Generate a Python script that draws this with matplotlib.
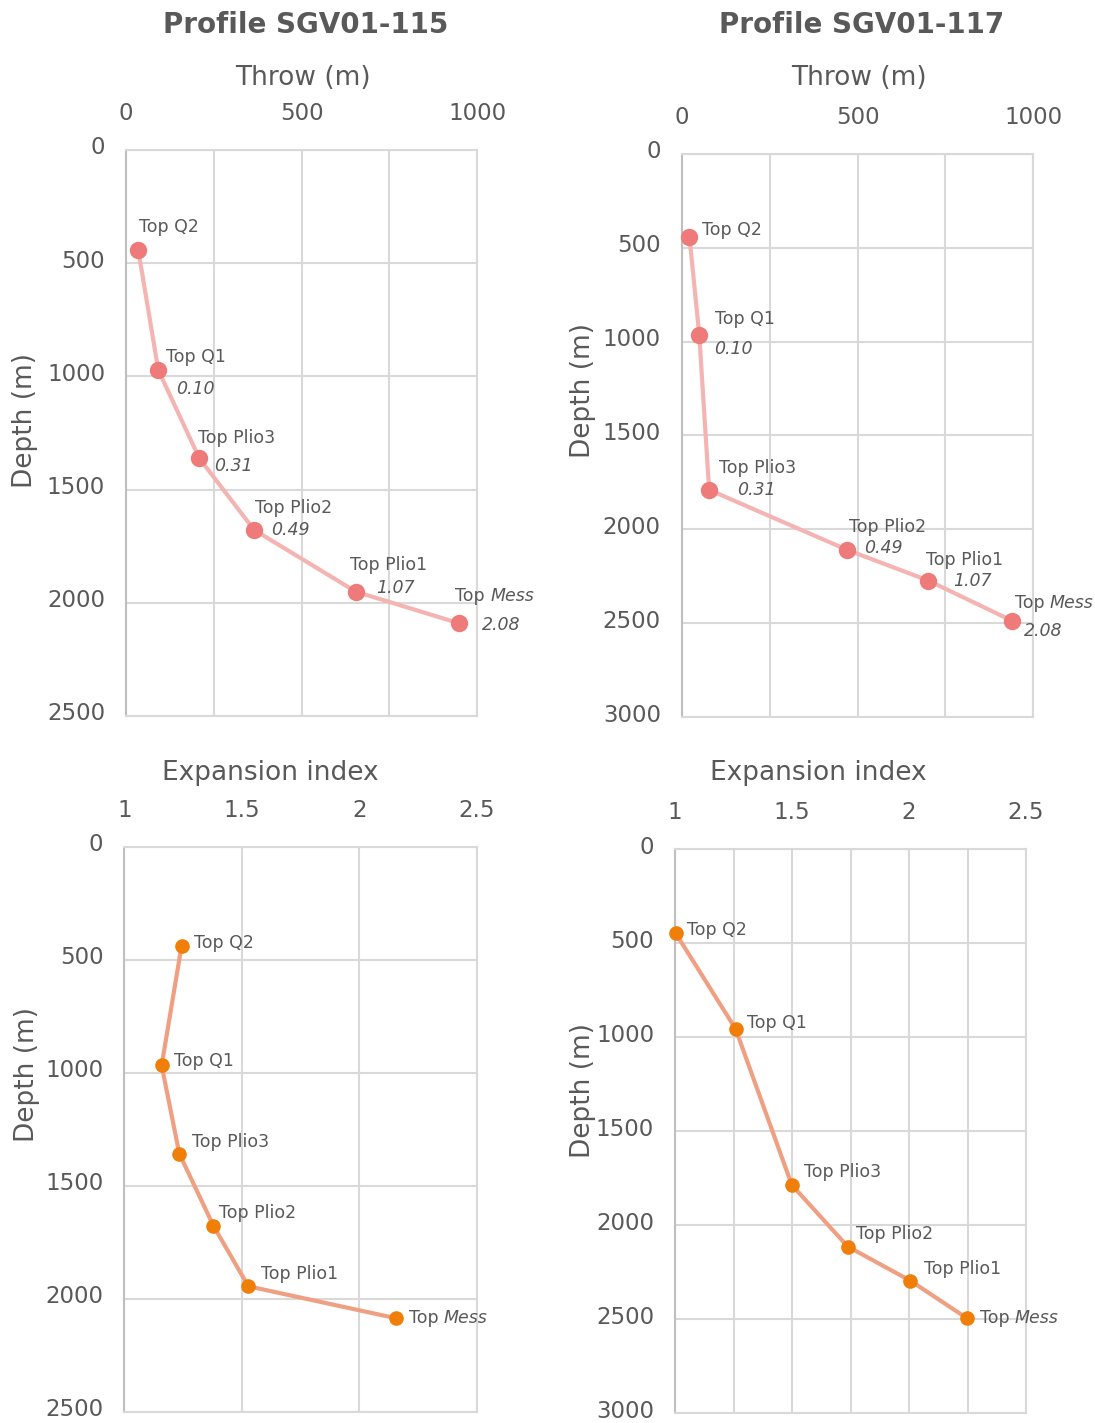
import numpy as np
import matplotlib
matplotlib.use('Agg')
import matplotlib.pyplot as plt
from matplotlib.ticker import MultipleLocator
from matplotlib.transforms import ScaledTranslation

plt.rcParams['font.family'] = ['DejaVu Sans']

text_color = '#595959'

horizons = ['Top Q2', 'Top Q1', 'Top Plio3', 'Top Plio2', 'Top Plio1', 'Top Mess']

# profile SGV01-115
throw_115 = [35, 92, 209, 365, 655, 950]
depth_throw_115 = [442, 972, 1362, 1678, 1951, 2091]
ei_115 = [1.244, 1.159, 1.234, 1.379, 1.528, 2.155]
depth_ei_115 = [437, 967, 1357, 1676, 1944, 2085]

# profile SGV01-117
throw_117 = [22, 50, 78, 471, 701, 938]
depth_throw_117 = [441, 965, 1790, 2110, 2273, 2486]
ei_117 = [1.003, 1.259, 1.499, 1.738, 2.006, 2.247]
depth_ei_117 = [447, 956, 1786, 2114, 2296, 2495]

# numbers written under the horizon names on the throw plots
rate_labels = ['', '0.10', '0.31', '0.49', '1.07', '2.08']

# label offsets in pixels (dx, dy), dy positive = up
name_off_tl = [(1, 23), (8, 13), (-1, 20), (1, 22), (-6, 27), (-4, 27)]
rate_off_tl = [None, (18, -19), (15, -8), (17, 0), (20, 4), (22, -2)]
name_off_tr = [(13, 7), (16, 16), (10, 22), (2, 23), (-2, 21), (3, 18)]
rate_off_tr = [None, (15, -14), (28, 0), (17, 2), (25, 0), (12, -10)]
name_off_bl = [(12, 3), (12, 4), (13, 12), (6, 13), (13, 12), (13, 0)]
name_off_br = [(11, 3), (11, 6), (12, 13), (8, 13), (14, 12), (13, 0)]

label_size = 12.5


def style_axes(ax, xlim, xgrid, xlabels, ylim):
    ax.set_xlim(*xlim)
    ax.set_ylim(ylim, 0)
    ax.xaxis.tick_top()
    ax.xaxis.set_minor_locator(MultipleLocator(xgrid))
    ax.set_xticks(xlabels)
    ax.set_yticks(np.arange(0, ylim + 1, 500))
    ax.grid(True, which='both', color='#D9D9D9', linewidth=1.5)
    ax.set_axisbelow(True)
    ax.tick_params(which='both', length=0, labelsize=16.5, labelcolor=text_color)
    ax.tick_params(axis='x', pad=18)
    ax.tick_params(axis='y', pad=15)
    # depth labels sit a few pixels above their gridline
    lift = ScaledTranslation(0, 0.045, ax.figure.dpi_scale_trans)
    for tick in ax.yaxis.get_major_ticks():
        tick.label1.set_transform(tick.label1.get_transform() + lift)
    for s in ['top', 'right', 'bottom']:
        ax.spines[s].set_color('#D9D9D9')
        ax.spines[s].set_linewidth(1.5)
    ax.spines['left'].set_color('#BFBFBF')
    ax.spines['left'].set_linewidth(1.5)


def put_name(ax, x, y, name, off):
    # "Mess" is drawn in italics in the original labels
    if name == 'Top Mess':
        t = ax.annotate('Top ', (x, y), xytext=off, textcoords='offset pixels',
                        fontsize=label_size, color=text_color, va='center',
                        ha='left', annotation_clip=False)
        ax.annotate('Mess', (1, 0.5), xycoords=t, va='center', ha='left',
                    fontsize=label_size, color=text_color, style='italic',
                    annotation_clip=False)
    else:
        ax.annotate(name, (x, y), xytext=off, textcoords='offset pixels',
                    fontsize=label_size, color=text_color, va='center',
                    ha='left', annotation_clip=False)


def throw_panel(ax, throw, depth, ylim, name_off, rate_off):
    style_axes(ax, (0, 1000), 250, [0, 500, 1000], ylim)
    ax.plot(throw, depth, color='#F4B4B2', linewidth=3, zorder=3)
    ax.plot(throw, depth, 'o', color='#EE7A7A', markersize=11.5, zorder=4,
            clip_on=False)
    for i in range(len(horizons)):
        put_name(ax, throw[i], depth[i], horizons[i], name_off[i])
        if rate_off[i] is not None:
            ax.annotate(rate_labels[i], (throw[i], depth[i]), xytext=rate_off[i],
                        textcoords='offset pixels', fontsize=12.5,
                        style='italic', color=text_color, va='center',
                        ha='left', annotation_clip=False)


def ei_panel(ax, ei, depth, ylim, xgrid, name_off):
    style_axes(ax, (1, 2.5), xgrid, [1, 1.5, 2, 2.5], ylim)
    ax.set_xticklabels(['1', '1.5', '2', '2.5'])
    ax.plot(ei, depth, color='#EFA082', linewidth=3, zorder=3)
    ax.plot(ei, depth, 'o', color='#F07F09', markersize=9.5, zorder=4,
            clip_on=False)
    for i in range(len(horizons)):
        put_name(ax, ei[i], depth[i], horizons[i], name_off[i])


W, H = 1095, 1423
fig = plt.figure(figsize=(W / 100, H / 100), dpi=100)


def rect(l, t, r, b):
    return [l / W, 1 - b / H, (r - l) / W, (b - t) / H]


ax_tl = fig.add_axes(rect(126, 150, 477, 716))
ax_tr = fig.add_axes(rect(681.7, 153.8, 1033.3, 717))
ax_bl = fig.add_axes(rect(124.3, 846.7, 476.7, 1412))
ax_br = fig.add_axes(rect(675, 849.3, 1026, 1413))

throw_panel(ax_tl, throw_115, depth_throw_115, 2500, name_off_tl, rate_off_tl)
throw_panel(ax_tr, throw_117, depth_throw_117, 3000, name_off_tr, rate_off_tr)
ei_panel(ax_bl, ei_115, depth_ei_115, 2500, 0.5, name_off_bl)
ei_panel(ax_br, ei_117, depth_ei_117, 3000, 0.25, name_off_br)

# titles and axis names placed like the original layout
fig.text(306 / W, 1 - 25 / H, 'Profile SGV01-115', fontsize=20, fontweight='bold',
         color=text_color, ha='center', va='center')
fig.text(862 / W, 1 - 25 / H, 'Profile SGV01-117', fontsize=20, fontweight='bold',
         color=text_color, ha='center', va='center')
fig.text(303 / W, 1 - 78 / H, 'Throw (m)', fontsize=19, color=text_color,
         ha='center', va='center')
fig.text(859 / W, 1 - 78 / H, 'Throw (m)', fontsize=19, color=text_color,
         ha='center', va='center')
fig.text(270 / W, 1 - 773 / H, 'Expansion index', fontsize=19, color=text_color,
         ha='center', va='center')
fig.text(818 / W, 1 - 773 / H, 'Expansion index', fontsize=19, color=text_color,
         ha='center', va='center')
for x, y in [(25, 421), (583, 390), (27, 1075), (583, 1090)]:
    fig.text(x / W, 1 - y / H, 'Depth (m)', fontsize=19, color=text_color,
             ha='center', va='center', rotation=90)

fig.savefig('out.png', dpi=100)
